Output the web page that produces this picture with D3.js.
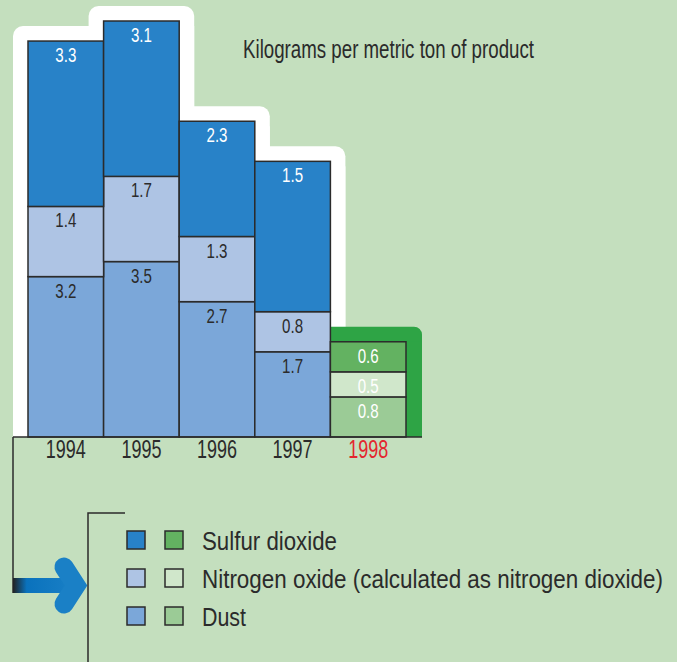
<!DOCTYPE html>
<html>
<head>
<meta charset="utf-8">
<script src="https://cdn.jsdelivr.net/npm/d3@7"></script>
<style>
  body { margin: 0; background: #c4dfbe; }
  svg text { font-family: "Liberation Sans", Arial, sans-serif; }
</style>
</head>
<body>
<div id="chart-area"></div>
<script>

// kilograms per metric ton of product
var years = ["1994", "1995", "1996", "1997", "1998"];
var dust = [3.2, 3.5, 2.7, 1.7, 0.8];
var nitrogen = [1.4, 1.7, 1.3, 0.8, 0.5];
// 1997 sulfur bar is drawn about 3.0 tall in the source, though printed as 1.5
var sulfur = [3.3, 3.1, 2.3, 3.0, 0.6];
var sulfurPrinted = ["3.3", "3.1", "2.3", "1.5", "0.6"];

var legendLabels = ["Sulfur dioxide", "Nitrogen oxide (calculated as nitrogen dioxide)", "Dust"];
var legendWidths = [135, 461, 44];
var title = "Kilograms per metric ton of product";

var blues = {sulfur: "#2882c8", nitrogen: "#aec4e4", dust: "#7ba7d9"};
var greens = {sulfur: "#63b261", nitrogen: "#d0e7cb", dust: "#9bcb96"};
var dark = "#2b2b2b";

var total_width = 677, total_height = 662;

var svg = d3.select('#chart-area').append('svg')
            .attr("width", total_width)
            .attr("height", total_height);

svg.append("rect").attr("width", total_width).attr("height", total_height).attr("fill", "#c4dfbe");

var data = years.map(function(y, i){
    return {year: y, dust: dust[i], nitrogen: nitrogen[i], sulfur: sulfur[i],
            printed: {dust: dust[i].toFixed(1), nitrogen: nitrogen[i].toFixed(1), sulfur: sulfurPrinted[i]}};
});

var keys = ["dust", "nitrogen", "sulfur"];
var stacked = d3.stack().keys(keys)(data);

var x = d3.scaleBand().domain(years).range([28, 406]).padding(0);
var y = d3.scaleLinear().domain([0, 8.3]).range([437, 21]);

var pad = 15;

// white backdrop behind the blue years
var back = svg.append("g");
data.slice(0, 4).forEach(function(d){
    var top = y(d.dust + d.nitrogen + d.sulfur) - pad;
    back.append("rect")
        .attr("x", x(d.year) - pad).attr("y", top)
        .attr("width", x.bandwidth() + 2 * pad).attr("height", y(0) - top)
        .attr("rx", 10).attr("fill", "#fff");
    back.append("rect")
        .attr("x", x(d.year) - pad).attr("y", top + 20)
        .attr("width", x.bandwidth() + 2 * pad).attr("height", y(0) - top - 20)
        .attr("fill", "#fff");
});

// green backdrop behind 1998
var last = data[4];
var gTop = y(last.dust + last.nitrogen + last.sulfur) - pad;
back.append("rect")
    .attr("x", x("1998") - 20).attr("y", gTop)
    .attr("width", x.bandwidth() + 20 + 16).attr("height", y(0) - gTop)
    .attr("rx", 8).attr("fill", "#2ea445");
back.append("rect")
    .attr("x", x("1998") - 20).attr("y", gTop + 15)
    .attr("width", x.bandwidth() + 20 + 16).attr("height", y(0) - gTop - 15)
    .attr("fill", "#2ea445");

// stacked bars
var chart = svg.append("g");
stacked.forEach(function(layer){
    var key = layer.key;
    chart.selectAll(".seg-" + key).data(layer).enter().append("rect")
        .attr("class", "seg-" + key)
        .attr("x", function(d){ return x(d.data.year); })
        .attr("y", function(d){ return y(d[1]); })
        .attr("width", x.bandwidth())
        .attr("height", function(d){ return y(d[0]) - y(d[1]); })
        .attr("fill", function(d){ return d.data.year == "1998" ? greens[key] : blues[key]; })
        .attr("stroke", dark)
        .attr("stroke-width", 1.5);

    chart.selectAll(".lab-" + key).data(layer).enter().append("text")
        .attr("class", "lab-" + key)
        .attr("x", function(d){ return x(d.data.year) + x.bandwidth() / 2; })
        .attr("y", function(d){ return y(d[1]) + 21; })
        .attr("text-anchor", "middle")
        .attr("font-size", "20px")
        .attr("textLength", 21)
        .attr("lengthAdjust", "spacingAndGlyphs")
        .attr("fill", function(d){
            return (d.data.year == "1998" || key == "sulfur") ? "#fff" : dark;
        })
        .text(function(d){ return d.data.printed[key]; });
});

// baseline axis with year labels
var xAxis = d3.axisBottom(x).tickSize(0).tickPadding(0);
var axis = svg.append("g").attr("transform", "translate(0," + y(0) + ")").call(xAxis);
axis.select(".domain").remove();
axis.selectAll("text")
    .attr("y", 21)
    .attr("dy", null)
    .attr("font-size", "26px")
    .attr("font-family", null)
    .attr("textLength", 40)
    .attr("lengthAdjust", "spacingAndGlyphs")
    .attr("fill", function(d){ return d == "1998" ? "#e3262f" : dark; });

svg.append("line")
   .attr("x1", 13).attr("x2", 422).attr("y1", y(0)).attr("y2", y(0))
   .attr("stroke", dark).attr("stroke-width", 1.5);
svg.append("line")
   .attr("x1", 13).attr("x2", 13).attr("y1", y(0)).attr("y2", 593)
   .attr("stroke", dark).attr("stroke-width", 1.5);

// title
svg.append("text")
   .attr("x", 243).attr("y", 58)
   .attr("font-size", "25px")
   .attr("textLength", 291)
   .attr("lengthAdjust", "spacingAndGlyphs")
   .attr("fill", dark)
   .text(title);

// arrow
var defs = svg.append("defs");
var grad = defs.append("linearGradient").attr("id", "shaft")
    .attr("x1", "0").attr("x2", "1").attr("y1", "0").attr("y2", "0");
grad.append("stop").attr("offset", "0%").attr("stop-color", "#222");
grad.append("stop").attr("offset", "22%").attr("stop-color", "#0a72bd");
grad.append("stop").attr("offset", "100%").attr("stop-color", "#1a80c6");

svg.append("rect")
   .attr("x", 13).attr("y", 578).attr("width", 62).attr("height", 15)
   .attr("fill", "url(#shaft)");
svg.append("path")
   .attr("d", "M64,567 L76,585.5 L64,604")
   .attr("fill", "none")
   .attr("stroke", "#1a80c6")
   .attr("stroke-width", 19)
   .attr("stroke-linecap", "round")
   .attr("stroke-linejoin", "miter");

// legend bracket
svg.append("path")
   .attr("d", "M125,513 L88,513 L88,662")
   .attr("fill", "none").attr("stroke", dark).attr("stroke-width", 1.5);

var legend = svg.append("g");
legendLabels.forEach(function(lab, i){
    var key = keys[2 - i];
    var row = legend.append("g").attr("transform", "translate(0," + (531 + i * 38) + ")");
    row.append("rect").attr("x", 127).attr("y", 0).attr("width", 18).attr("height", 18)
       .attr("fill", blues[key]).attr("stroke", dark).attr("stroke-width", 1.5);
    row.append("rect").attr("x", 165).attr("y", 0).attr("width", 18).attr("height", 18)
       .attr("fill", greens[key]).attr("stroke", dark).attr("stroke-width", 1.5);
    row.append("text").attr("x", 202).attr("y", 19)
       .attr("font-size", "26px")
       .attr("textLength", legendWidths[i])
       .attr("lengthAdjust", "spacingAndGlyphs")
       .attr("fill", dark)
       .text(lab);
});

</script>
</body>
</html>
